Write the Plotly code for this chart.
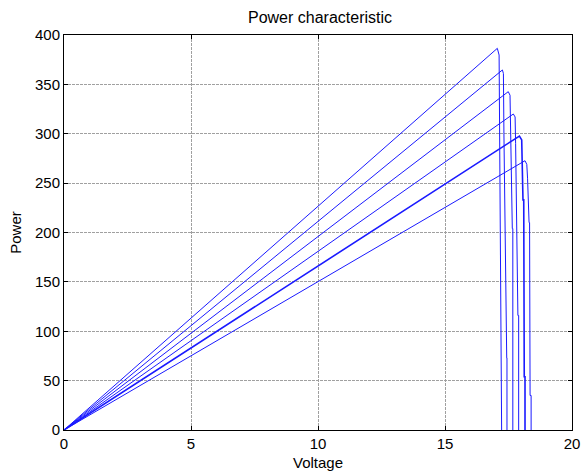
import plotly.graph_objects as go

# Voltage / power points for each PV power curve
v1 = [0, 17.06, 17.13, 17.20, 17.23]
p1 = [0, 386.5, 379.7, 150, 0]
v2 = [0, 17.26, 17.30, 17.32, 17.43, 17.44, 17.44]
p2 = [0, 364.6, 361.0, 300, 73, 73, 0]
v3 = [0, 17.49, 17.56, 17.58, 17.65, 17.67, 17.67]
p3 = [0, 342.6, 339.0, 300, 204, 204, 0]
v4 = [0, 17.69, 17.76, 17.78, 17.87, 17.90, 17.90]
p4 = [0, 320.0, 317.0, 290, 116, 116, 0]
v5 = [0, 17.93, 18.02, 18.04, 18.07, 18.10, 18.12, 18.15, 18.15]
p5 = [0, 297.7, 293.7, 270, 233, 233, 54, 54, 0]
v6 = [0, 18.15, 18.22, 18.25, 18.31, 18.33, 18.35, 18.39, 18.39]
p6 = [0, 272.7, 269.0, 255, 210, 210, 35, 35, 0]

curves = [(v1, p1, 1), (v2, p2, 1), (v3, p3, 1), (v4, p4, 1), (v5, p5, 1.6), (v6, p6, 1)]

x_ticks = [0, 5, 10, 15, 20]
y_ticks = [0, 50, 100, 150, 200, 250, 300, 350, 400]

fig = go.Figure()
for v, p, w in curves:
    fig.add_trace(go.Scatter(x=v, y=p, mode="lines",
                             line=dict(color="#1a1aff", width=w),
                             showlegend=False, hoverinfo="skip"))

font = dict(family="Liberation Sans, Arial, sans-serif", size=15, color="black")
axis_common = dict(showline=True, linecolor="black", linewidth=1, mirror="ticks",
                   ticks="inside", ticklen=4, tickcolor="black",
                   showgrid=True, gridcolor="#a0a0a0", griddash="3px,1px", gridwidth=1,
                   zeroline=False, tickfont=font, automargin=False)

fig.update_layout(
    width=581, height=476,
    paper_bgcolor="white", plot_bgcolor="white",
    margin=dict(l=64, r=9, t=35, b=46),
    title=dict(text="Power characteristic", x=320 / 581, xanchor="center",
               y=1 - 17 / 476, yanchor="middle", font=dict(font, size=16)),
    xaxis=dict(range=[0, 20], tickvals=x_ticks,
               title=dict(text="Voltage", font=font, standoff=6), **axis_common),
    yaxis=dict(range=[0, 400], tickvals=y_ticks,
               title=dict(text="Power", font=font, standoff=9), **axis_common),
)

fig.write_html("out.html", config={"displayModeBar": False},
               post_script="document.body.style.margin='0';")
